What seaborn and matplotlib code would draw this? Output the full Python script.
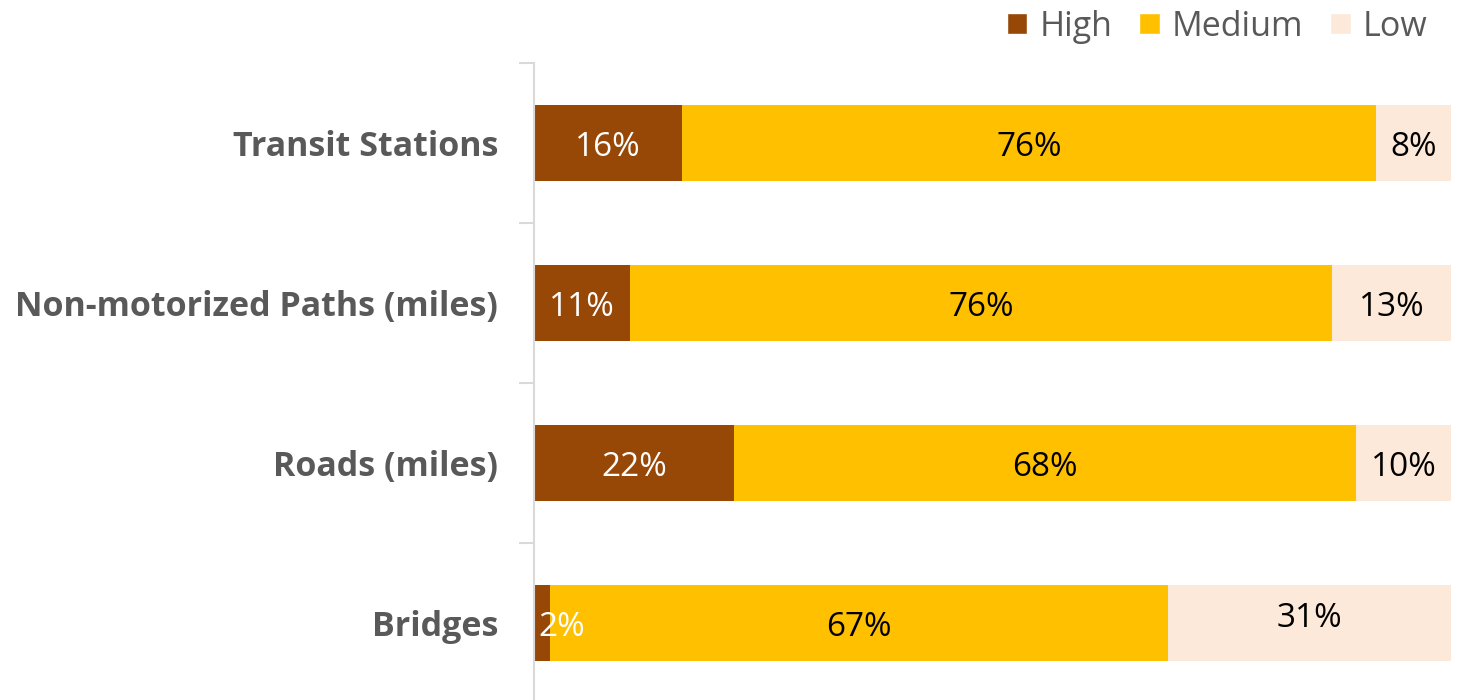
import numpy as np
import pandas as pd
import matplotlib.pyplot as plt
import seaborn as sns
from matplotlib.patches import Patch

categories = ['Transit Stations', 'Non-motorized Paths (miles)', 'Roads (miles)', 'Bridges']
high = [16.1, 10.5, 21.8, 1.7]
medium = [75.7, 76.5, 67.8, 67.4]
low = [8.2, 13.0, 10.4, 30.9]
high_labels = ['16%', '11%', '22%', '2%']
medium_labels = ['76%', '76%', '68%', '67%']
low_labels = ['8%', '13%', '10%', '31%']

colors = {'High': '#974706', 'Medium': '#FFC000', 'Low': '#FCE9DA'}

df = pd.DataFrame({'category': categories, 'High': high, 'Medium': medium, 'Low': low})
df['cum_med'] = df['High'] + df['Medium']
df['cum_low'] = df['cum_med'] + df['Low']

sns.set_style('white')
plt.rcParams['font.family'] = ['Open Sans', 'DejaVu Sans']

fig = plt.figure(figsize=(14.61, 7), dpi=100)
ax = fig.add_axes([0.3655, -0.0043, 0.6277, 0.9143])

# stack by drawing cumulative totals from back to front
for col, key in [('cum_low', 'Low'), ('cum_med', 'Medium'), ('High', 'High')]:
    sns.barplot(data=df, x=col, y='category', orient='h', color=colors[key],
                width=0.48, saturation=1, ax=ax, edgecolor='none')

# data labels
fs = 24
for i in range(len(categories)):
    h, m, l = high[i], medium[i], low[i]
    y = i + 0.03
    hx = h / 2 if h > 5 else 3.0
    ax.text(hx, y, high_labels[i], ha='center', va='center', color='white', fontsize=fs)
    ax.text(h + m / 2, y, medium_labels[i], ha='center', va='center', color='black', fontsize=fs)
    ly = y - 0.06 if l > 20 else y
    ax.text(h + m + l / 2, ly, low_labels[i], ha='center', va='center', color='black', fontsize=fs)

ax.set_xlim(0, 100)
ax.set_ylim(len(categories) - 0.5, -0.5)
ax.set_xlabel('')
ax.set_ylabel('')
ax.set_xticks([])
ax.set_yticks(range(len(categories)))
ax.set_yticklabels(categories, fontsize=24.5, fontweight='bold', color='#595959')
ax.tick_params(axis='y', which='major', length=0, pad=26)
ax.set_yticks(np.arange(-0.5, len(categories), 1), minor=True)
ax.tick_params(axis='y', which='minor', left=True, length=11, color='#D9D9D9', width=1.5)

for s in ['top', 'right', 'bottom']:
    ax.spines[s].set_visible(False)
ax.spines['left'].set_color('#D9D9D9')
ax.spines['left'].set_linewidth(1.5)

handles = [Patch(facecolor=colors[k], label=k) for k in ['High', 'Medium', 'Low']]
fig.legend(handles=handles, loc='upper right', bbox_to_anchor=(0.998, 1.03), ncol=3,
           frameon=False, fontsize=24.5, handlelength=0.6, handleheight=0.6,
           handletextpad=0.35, columnspacing=0.8, labelcolor='#595959')

fig.savefig('out.png', dpi=100)
